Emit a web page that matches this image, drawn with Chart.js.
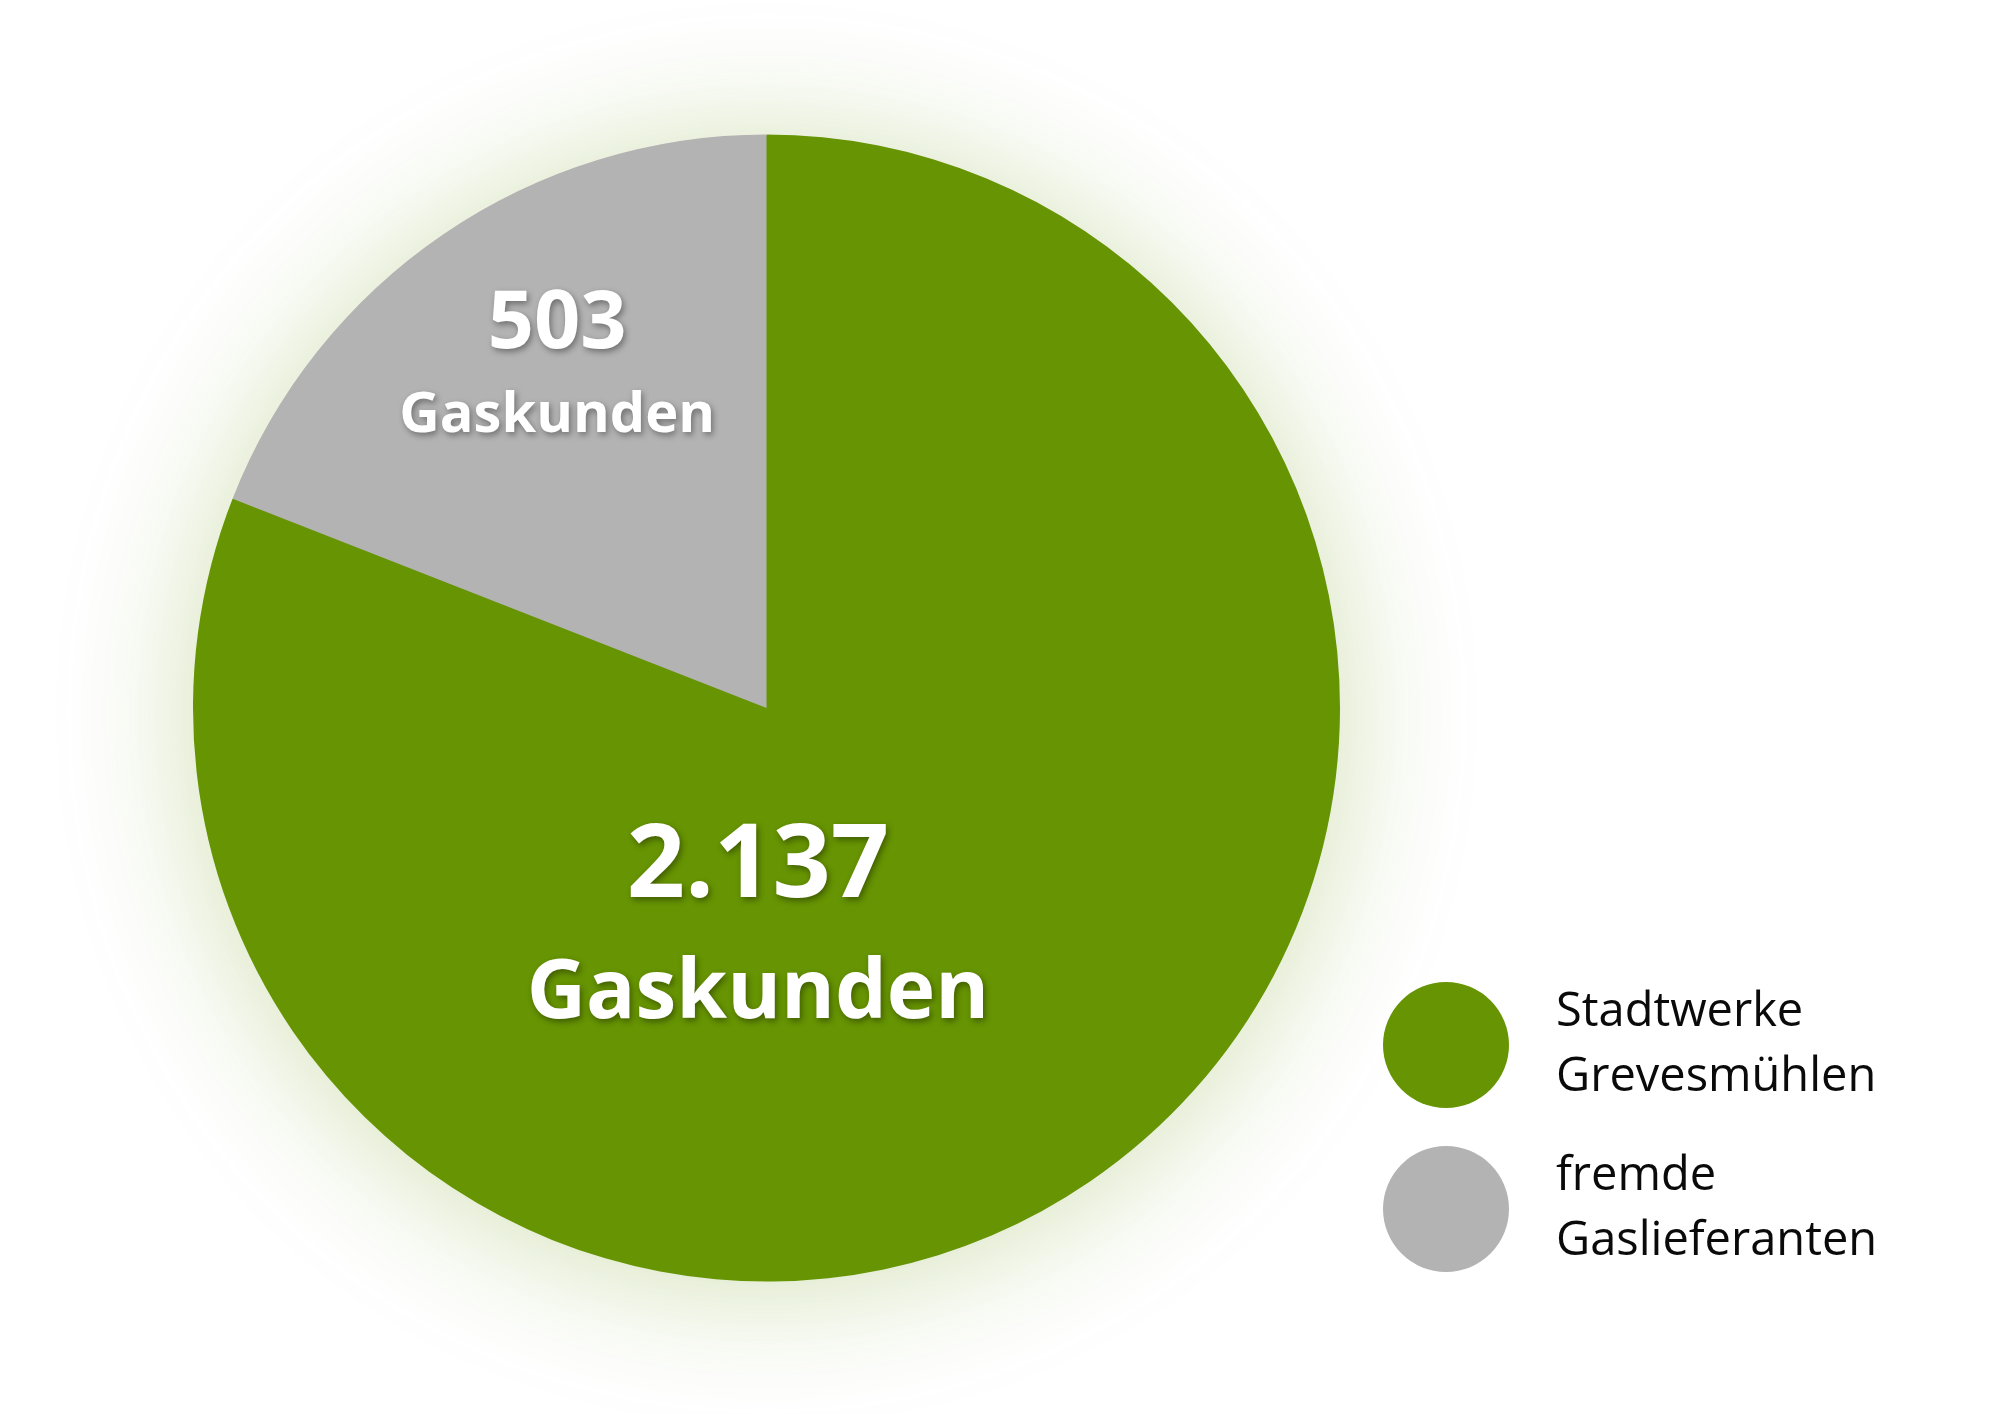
<!DOCTYPE html>
<html>
<head>
<meta charset="utf-8">
<script src="https://cdn.jsdelivr.net/npm/chart.js@4/dist/chart.umd.min.js"></script>
<style>
  html, body { margin: 0; padding: 0; background: #ffffff; }
  #wrap { width: 2000px; height: 1414px; position: relative; }
</style>
</head>
<body>
<div id="wrap"><canvas id="c" width="2000" height="1414"></canvas></div>
<script>
// ---- data ----
const categories = ["Stadtwerke Grevesmühlen", "fremde Gaslieferanten"];
const legendLines = [["Stadtwerke", "Grevesmühlen"], ["fremde", "Gaslieferanten"]];
const customers = [2137, 503];
const valueLabels = ["2.137", "503"];
const unitLabel = "Gaskunden";
const colors = ["#669402", "#b3b3b3"];

// glow behind pie
const glowPlugin = {
  id: 'glow',
  beforeDatasetsDraw(chart) {
    const arc = chart.getDatasetMeta(0).data[0];
    if (!arc) return;
    const ctx = chart.ctx;
    ctx.save();
    ctx.shadowColor = 'rgba(104,150,0,0.30)';
    ctx.shadowBlur = 135;
    ctx.shadowOffsetX = 0;
    ctx.shadowOffsetY = 6;
    ctx.fillStyle = colors[0];
    ctx.beginPath();
    ctx.arc(arc.x, arc.y, arc.outerRadius - 1, 0, Math.PI * 2);
    ctx.fill();
    ctx.restore();
  }
};

// value labels inside slices
const labelPlugin = {
  id: 'vlabels',
  afterDatasetsDraw(chart) {
    const meta = chart.getDatasetMeta(0);
    const arc = meta.data[0];
    if (!arc) return;
    const r = arc.outerRadius, cx = arc.x, cy = arc.y;
    const ctx = chart.ctx;
    // relative placements (fractions of radius) for [green, gray]
    const place = [
      { dx: -0.015, dyNum: 0.330, dyUnit: 0.540, numSize: 102, unitSize: 82 },
      { dx: -0.365, dyNum: -0.628, dyUnit: -0.482, numSize: 81, unitSize: 56 }
    ];
    ctx.save();
    ctx.textAlign = 'center';
    ctx.textBaseline = 'alphabetic';
    ctx.fillStyle = '#ffffff';
    valueLabels.forEach((v, i) => {
      const p = place[i];
      const x = cx + p.dx * r;
      ctx.shadowColor = 'rgba(0,0,0,0.38)';
      ctx.shadowBlur = 6;
      ctx.shadowOffsetX = 2;
      ctx.shadowOffsetY = 3;
      ctx.font = '700 ' + p.numSize + 'px "Open Sans"';
      ctx.fillText(v, x, cy + p.dyNum * r);
      ctx.font = '700 ' + p.unitSize + 'px "Open Sans"';
      ctx.fillText(unitLabel, x, cy + p.dyUnit * r);
    });
    ctx.restore();
  }
};

// custom legend with circles and two-line labels
const legendPlugin = {
  id: 'customLegend',
  afterDraw(chart) {
    const ctx = chart.ctx;
    const circleX = 1446, circleR = 63;
    const textX = 1556;
    const firstCenterY = 1045, stepY = 164;
    const lineH = 65;
    ctx.save();
    categories.forEach((c, i) => {
      const cy = firstCenterY + i * stepY;
      ctx.fillStyle = colors[i];
      ctx.beginPath();
      ctx.arc(circleX, cy, circleR, 0, Math.PI * 2);
      ctx.fill();
      ctx.fillStyle = '#0a0a0a';
      ctx.font = '400 47px "Open Sans"';
      ctx.textAlign = 'left';
      ctx.textBaseline = 'alphabetic';
      const lines = legendLines[i];
      lines.forEach((ln, j) => {
        ctx.fillText(ln, textX, cy - 19 + j * lineH);
      });
    });
    ctx.restore();
  }
};

new Chart(document.getElementById('c'), {
  type: 'pie',
  data: {
    labels: categories,
    datasets: [{
      data: customers,
      backgroundColor: colors,
      borderWidth: 0,
      hoverOffset: 0
    }]
  },
  options: {
    responsive: false,
    animation: false,
    devicePixelRatio: 1,
    layout: { padding: { top: 134, bottom: 132, left: 193, right: 660 } },
    plugins: {
      legend: { display: false },
      tooltip: { enabled: false }
    }
  },
  plugins: [glowPlugin, labelPlugin, legendPlugin]
});
</script>
</body>
</html>
